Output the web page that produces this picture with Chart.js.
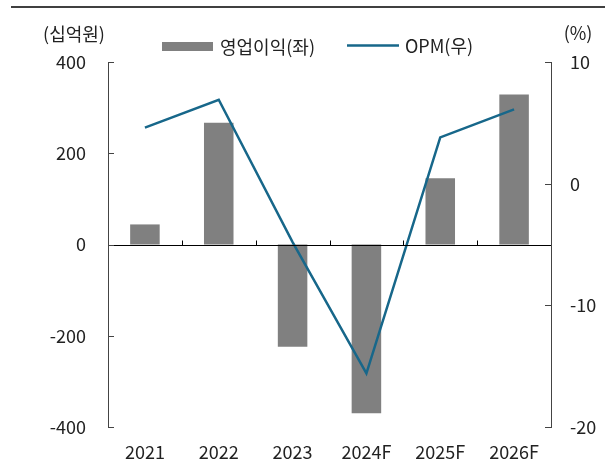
<!DOCTYPE html>
<html>
<head>
<meta charset="utf-8">
<script src="https://cdn.jsdelivr.net/npm/chart.js@4"></script>
<style>
    html, body { margin: 0; padding: 0; background: #fff; }
    #wrap { width: 616px; height: 464px; }
</style>
</head>
<body>
<div id="wrap"><canvas id="chart" width="616" height="464"></canvas></div>
<script>
// Данные
const years = ['2021', '2022', '2023', '2024F', '2025F', '2026F'];
const opProfit = [44, 267, -224, -370, 145, 329];     // 영업이익, 십억원
const opm = [4.6, 6.9, -4.8, -15.6, 3.8, 6.1];        // OPM, %
const leftTicks = [-400, -200, 0, 200, 400];
const rightTicks = [-20, -10, 0, 10];

const FONT = '"Noto Sans CJK KR", "Noto Sans", sans-serif';
const BAR_COLOR = '#808080';
const LINE_COLOR = '#17678a';
const TEXT_COLOR = '#222';

// Рамка, засечки, легенда и подписи единиц
const decorPlugin = {
    id: 'decor',
    afterDatasetsDraw(chart) {
        const ctx = chart.ctx;
        const area = chart.chartArea;
        const x = chart.scales.x;
        const y = chart.scales.y;
        const y1 = chart.scales.y1;
        ctx.save();

        // нулевая линия
        const zeroY = Math.round(y.getPixelForValue(0)) + 0.5;
        ctx.strokeStyle = '#000';
        ctx.lineWidth = 1;
        ctx.beginPath();
        ctx.moveTo(area.left, zeroY);
        ctx.lineTo(area.right, zeroY);
        ctx.stroke();

        // засечки между категориями
        const half = (x.getPixelForValue(1) - x.getPixelForValue(0)) / 2;
        for (let i = 1; i < years.length; i++) {
            const px = Math.round(x.getPixelForValue(i) - half) + 0.5;
            ctx.beginPath();
            ctx.moveTo(px, zeroY);
            ctx.lineTo(px, zeroY - 5);
            ctx.stroke();
        }

        // засечки на осях (внутрь)
        ctx.strokeStyle = '#444';
        leftTicks.forEach(v => {
            const py = Math.round(y.getPixelForValue(v)) + 0.5;
            ctx.beginPath();
            ctx.moveTo(area.left, py);
            ctx.lineTo(area.left + 6, py);
            ctx.stroke();
        });
        rightTicks.forEach(v => {
            const py = Math.round(y1.getPixelForValue(v)) + 0.5;
            ctx.beginPath();
            ctx.moveTo(area.right, py);
            ctx.lineTo(area.right - 6, py);
            ctx.stroke();
        });

        // верхняя линия
        ctx.strokeStyle = '#000';
        ctx.lineWidth = 1.5;
        ctx.beginPath();
        ctx.moveTo(11, 7);
        ctx.lineTo(605, 7);
        ctx.stroke();

        // подписи единиц
        ctx.fillStyle = TEXT_COLOR;
        ctx.font = '18px ' + FONT;
        ctx.textBaseline = 'middle';
        ctx.textAlign = 'center';
        ctx.fillText('(십억원)', 74, 34);
        ctx.fillText('(%)', 578, 33);

        // легенда
        ctx.textAlign = 'left';
        ctx.fillStyle = BAR_COLOR;
        ctx.fillRect(162, 42, 51, 9);
        ctx.fillStyle = TEXT_COLOR;
        ctx.fillText(chart.data.datasets[0].label, 220, 47);
        ctx.strokeStyle = LINE_COLOR;
        ctx.lineWidth = 2.5;
        ctx.beginPath();
        ctx.moveTo(347, 45.5);
        ctx.lineTo(399, 45.5);
        ctx.stroke();
        ctx.fillText(chart.data.datasets[1].label, 405, 46);

        ctx.restore();
    }
};

document.addEventListener('DOMContentLoaded', function() {
    const ctx = document.getElementById('chart');
    new Chart(ctx, {
        data: {
            labels: years,
            datasets: [{
                type: 'bar',
                label: '영업이익(좌)',
                data: opProfit,
                backgroundColor: BAR_COLOR,
                barPercentage: 0.4,
                categoryPercentage: 1,
                yAxisID: 'y',
                order: 1
            }, {
                type: 'line',
                label: 'OPM(우)',
                data: opm,
                borderColor: LINE_COLOR,
                borderWidth: 2.5,
                pointRadius: 0,
                tension: 0,
                yAxisID: 'y1',
                order: 0
            }]
        },
        options: {
            responsive: false,
            animation: false,
            layout: { padding: { top: 62, left: 0, right: 0, bottom: 0 } },
            plugins: {
                legend: { display: false },
                tooltip: { enabled: false }
            },
            scales: {
                x: {
                    grid: { display: false, drawTicks: false },
                    border: { display: false },
                    ticks: { color: TEXT_COLOR, font: { family: FONT, size: 18 }, padding: 14, maxRotation: 0 },
                    afterFit(scale) { scale.height = 37; }
                },
                y: {
                    position: 'left',
                    min: -400,
                    max: 400,
                    grid: { display: false, drawTicks: false },
                    border: { display: true, color: '#444', width: 1 },
                    ticks: { stepSize: 200, color: TEXT_COLOR, font: { family: FONT, size: 18 }, padding: 22 },
                    afterFit(scale) { scale.width = 108; }
                },
                y1: {
                    position: 'right',
                    min: -20,
                    max: 10,
                    grid: { display: false, drawTicks: false },
                    border: { display: true, color: '#444', width: 1 },
                    ticks: { stepSize: 10, color: TEXT_COLOR, font: { family: FONT, size: 18 }, padding: 19 },
                    afterFit(scale) { scale.width = 65; }
                }
            }
        },
        plugins: [decorPlugin]
    });
});
</script>
</body>
</html>
